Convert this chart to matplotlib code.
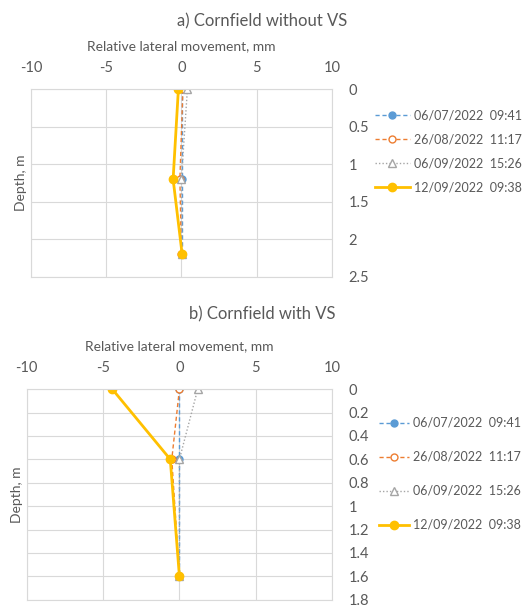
import numpy as np
import matplotlib
matplotlib.use("Agg")
import matplotlib.pyplot as plt

plt.rcParams['font.family'] = ['Lato', 'DejaVu Sans']
plt.rcParams['axes.unicode_minus'] = False

labels = ["06/07/2022  09:41", "26/08/2022  11:17", "06/09/2022  15:26", "12/09/2022  09:38"]

# a) Cornfield without VS
depth_a = [0, 1.2, 2.2]
mov_a = [
    [0.05, 0.05, 0.05],
    [0.1, -0.1, 0.0],
    [0.4, 0.0, 0.05],
    [-0.2, -0.55, 0.05],
]

# b) Cornfield with VS
depth_b = [0, 0.6, 1.6]
mov_b = [
    [0.0, 0.0, 0.0],
    [0.0, -0.5, 0.0],
    [1.2, 0.0, 0.0],
    [-4.4, -0.6, 0.0],
]

styles = [
    dict(color="#5B9BD5", ls=(0, (3, 2)), lw=1.0, marker="o", ms=5, mfc="#5B9BD5", mec="#5B9BD5"),
    dict(color="#ED7D31", ls=(0, (3, 2)), lw=1.0, marker="o", ms=5, mfc="white", mec="#ED7D31"),
    dict(color="#A5A5A5", ls=(0, (1, 1.5)), lw=1.0, marker="^", ms=5.5, mfc="white", mec="#A5A5A5"),
    dict(color="#FFC000", ls="-", lw=2.0, marker="o", ms=6, mfc="#FFC000", mec="#FFC000"),
]

txt = "#595959"
grid = "#D9D9D9"

fig = plt.figure(figsize=(5.25, 6.08), dpi=100)


def panel(rect, depth, movs, ymax, ystep, title, title_y, leg_x, leg_y, spacing, hl):
    ax = fig.add_axes(rect)
    for m, st, lab in zip(movs, styles, labels):
        ax.plot(m, depth, label=lab, **st)
    ax.set_xlim(-10, 10)
    ax.set_ylim(ymax, 0)
    ax.set_xticks([-10, -5, 0, 5, 10])
    ax.set_yticks(np.arange(0, ymax + 1e-9, ystep))
    ax.yaxis.set_major_formatter(plt.FuncFormatter(lambda v, p: f"{v:g}"))
    ax.xaxis.tick_top()
    ax.xaxis.set_label_position("top")
    ax.yaxis.tick_right()
    ax.yaxis.set_label_position("left")
    ax.tick_params(length=0, labelsize=10.5, colors=txt, pad=10)
    ax.tick_params(axis="y", pad=12)
    ax.grid(True, color=grid, lw=0.8)
    for s in ax.spines.values():
        s.set_color(grid)
    ax.set_xlabel("Relative lateral movement, mm", fontsize=10, color=txt, labelpad=8)
    ax.set_ylabel("Depth, m", fontsize=10, color=txt, labelpad=3)
    fig.text(0.5, title_y, title, ha="center", va="center", fontsize=12, color=txt)
    ax.legend(loc="upper left", bbox_to_anchor=(leg_x, leg_y), frameon=False,
              fontsize=9, labelcolor=txt, handlelength=hl, handletextpad=0.3,
              labelspacing=spacing, borderaxespad=0, borderpad=0)
    return ax


panel([0.059, 0.545, 0.573, 0.308], depth_a, mov_a, 2.5, 0.5,
      "a) Cornfield without VS", 1 - 21 / 608, 1.143, 0.895, 0.96, 2.8)
panel([0.051, 0.0135, 0.5815, 0.3465], depth_b, mov_b, 1.8, 0.2,
      "b) Cornfield with VS", 1 - 314 / 608, 1.155, 0.868, 1.76, 2.4)

fig.savefig("out.png", dpi=100)
